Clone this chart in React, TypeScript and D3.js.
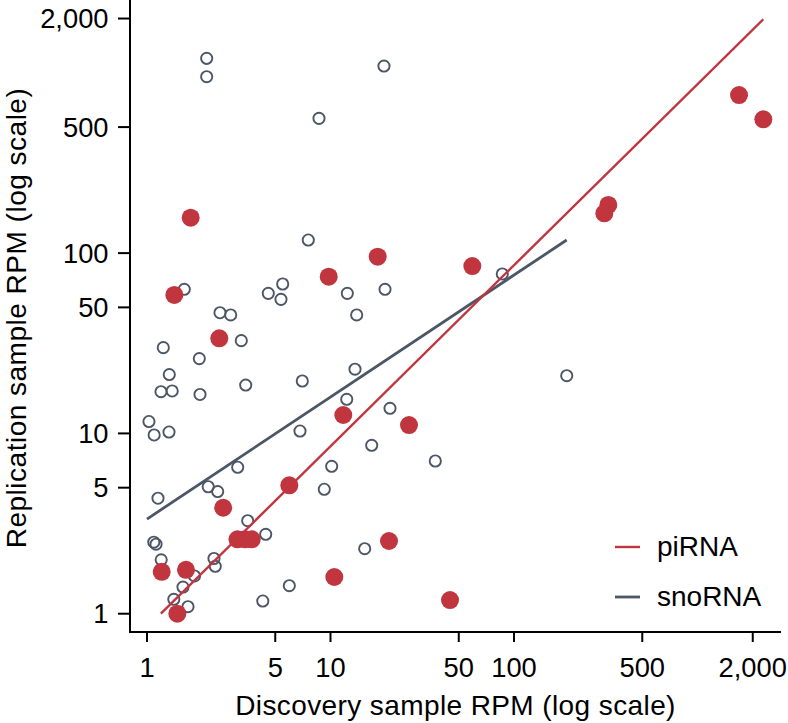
import React from "react";
import * as d3 from "d3";

// snoRNA points: [discovery RPM, replication RPM]
const snoX = [2.115, 2.115, 19.56, 8.656, 7.568, 1.597, 4.581, 5.489, 5.373, 12.35, 19.82, 13.89, 2.499, 2.858, 3.265, 1.227, 1.928, 1.323, 1.192, 1.372, 1.945, 3.451, 7.02, 13.6, 12.26, 21.1, 1.025, 1.094, 1.318, 6.82, 16.77, 3.121, 10.15, 2.156, 2.428, 9.25, 1.148, 3.538, 4.436, 1.089, 1.12, 1.195, 15.36, 2.318, 2.356, 1.815, 1.571, 5.965, 1.4, 1.673, 4.276, 193.8, 37.25, 86.35];
const snoY = [1203, 951.5, 1090, 559, 118.2, 63.0, 59.8, 67.4, 55.4, 59.8, 63.0, 45.4, 46.7, 45.4, 32.7, 29.9, 26.0, 21.2, 17.03, 17.19, 16.44, 18.55, 19.53, 22.7, 15.46, 13.78, 11.64, 9.8, 10.18, 10.31, 8.59, 6.49, 6.57, 5.06, 4.76, 4.9, 4.37, 3.28, 2.757, 2.492, 2.429, 1.991, 2.294, 2.024, 1.832, 1.619, 1.406, 1.43, 1.202, 1.094, 1.176, 20.9, 7.03, 76.6];

// piRNA points
const piX = [1.73, 1.409, 9.78, 18.08, 2.477, 11.74, 2.602, 5.965, 3.113, 3.42, 3.721, 20.84, 1.203, 1.631, 10.49, 1.463, 26.78, 44.8, 1684, 2284, 326.6, 310.6, 59.27];
const piY = [157.1, 58.6, 74.0, 95.5, 33.7, 12.65, 3.87, 5.155, 2.586, 2.586, 2.586, 2.531, 1.708, 1.752, 1.598, 1.0, 11.13, 1.191, 753, 552, 184.9, 166.3, 84.8];

// fitted lines (log-log), endpoints
const piFitX = [1.19, 2283];
const piFitY = [1.0, 1982];
const snoFitX = [1.0, 193.7];
const snoFitY = [3.35, 118.2];

const xTicks = [1, 5, 10, 50, 100, 500, 2000];
const xTickLabels = ["1", "5", "10", "50", "100", "500", "2,000"];
const yTicks = [1, 5, 10, 50, 100, 500, 2000];
const yTickLabels = ["1", "5", "10", "50", "100", "500", "2,000"];

const legendLabels = ["piRNA", "snoRNA"];

const RED = "#c1353f";
const GRAY = "#4b5666";
const FONT = "'Liberation Sans', Arial, Helvetica, sans-serif";

export default function App() {
  const left = 130, right = 781, top = 0, bottom = 632;
  const x = d3.scaleLog().domain([0.808, 2851]).range([left, right]);
  const y = d3.scaleLog().domain([0.7917, 2534]).range([bottom, top]);
  const line = d3.line<[number, number]>().x(d => x(d[0])).y(d => y(d[1]));

  const piFit: [number, number][] = piFitX.map((v, i) => [v, piFitY[i]]);
  const snoFit: [number, number][] = snoFitX.map((v, i) => [v, snoFitY[i]]);

  return (
    <svg width={788} height={723} style={{ position: "absolute", left: 0, top: 0, background: "#fff" }} fontFamily={FONT}>
      <rect x={0} y={0} width={788} height={723} fill="#fff" />
      {/* axes */}
      <line x1={left} x2={left} y1={top} y2={bottom + 1} stroke="#000" strokeWidth={2} />
      <line x1={left - 1} x2={right} y1={bottom} y2={bottom} stroke="#000" strokeWidth={2} />
      {yTicks.map((t, i) => (
        <g key={"yt" + i}>
          <line x1={left - 12} x2={left} y1={y(t)} y2={y(t)} stroke="#000" strokeWidth={2} />
          <text x={108.5} y={y(t) + 9.7} textAnchor="end" fontSize={27.3} fill="#000">{yTickLabels[i]}</text>
        </g>
      ))}
      {xTicks.map((t, i) => (
        <g key={"xt" + i}>
          <line x1={x(t)} x2={x(t)} y1={bottom} y2={bottom + 10} stroke="#000" strokeWidth={2} />
          <text x={x(t)} y={677} textAnchor="middle" fontSize={27.3} fill="#000">{xTickLabels[i]}</text>
        </g>
      ))}
      <text x={(left + right) / 2} y={714.5} textAnchor="middle" fontSize={28} letterSpacing={0.4} fill="#000">Discovery sample RPM (log scale)</text>
      <text transform={`translate(25.5,318) rotate(-90)`} textAnchor="middle" fontSize={28} letterSpacing={0.5} fill="#000">Replication sample RPM (log scale)</text>

      {/* points */}
      {snoX.map((v, i) => (
        <circle key={"s" + i} cx={x(v)} cy={y(snoY[i])} r={5.6} fill="none" stroke={GRAY} strokeWidth={1.9} />
      ))}
      {piX.map((v, i) => (
        <circle key={"p" + i} cx={x(v)} cy={y(piY[i])} r={9} fill={RED} />
      ))}
      {/* fit lines */}
      <path d={line(snoFit) || ""} fill="none" stroke={GRAY} strokeWidth={2.8} />
      <path d={line(piFit) || ""} fill="none" stroke={RED} strokeWidth={2.4} />

      {/* legend */}
      <line x1={615} x2={640} y1={547} y2={547} stroke={RED} strokeWidth={2.4} />
      <text x={657} y={555.5} fontSize={28} fill="#000">{legendLabels[0]}</text>
      <line x1={615} x2={640} y1={597} y2={597} stroke={GRAY} strokeWidth={2.8} />
      <text x={657} y={605.5} fontSize={28} fill="#000">{legendLabels[1]}</text>
    </svg>
  );
}
